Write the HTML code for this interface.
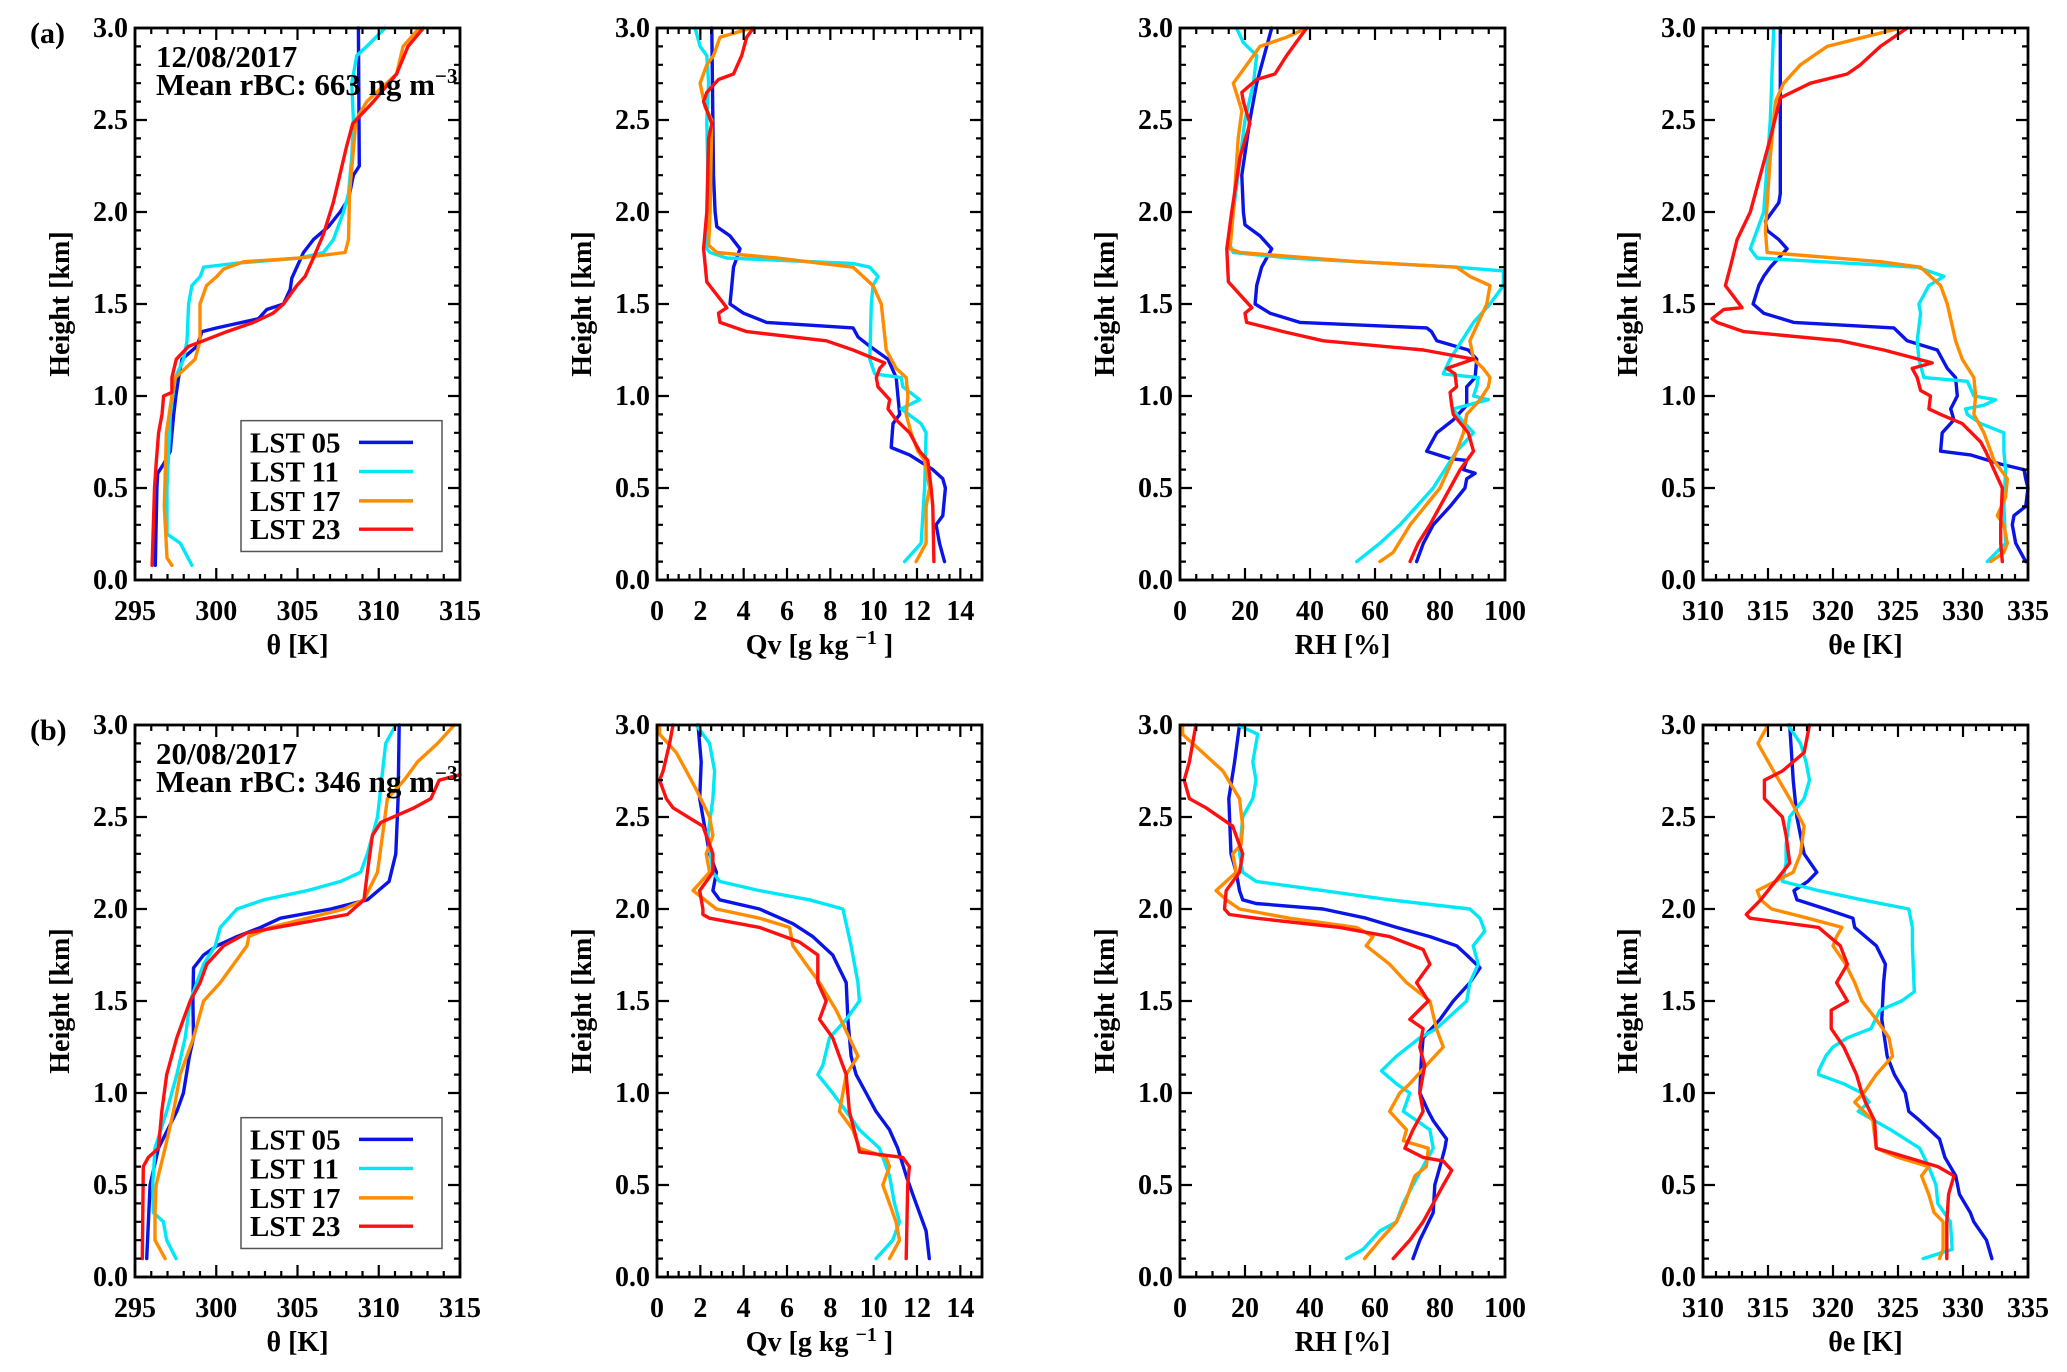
<!DOCTYPE html>
<html><head><meta charset="utf-8"><title>Vertical profiles</title>
<style>
html,body{margin:0;padding:0;background:#fff;}
svg{display:block;font-family:"Liberation Serif",serif;font-weight:bold;}
</style></head>
<body>
<svg id="fig" width="2067" height="1372" viewBox="0 0 2067 1372"></svg>
<script>
// ---------- DATA: [height km, value] ----------
const a1_05=[[0.08,296.25],[0.5,296.35],[0.58,296.4],[0.63,296.76],[0.7,297.17],[0.9,297.38],[1.0,297.52],[1.1,297.68],[1.2,297.89],[1.27,298.81],[1.35,299.12],[1.37,300.04],[1.42,302.6],[1.47,303.11],[1.5,304.14],[1.58,304.55],[1.64,304.65],[1.7,304.96],[1.78,305.37],[1.85,305.98],[1.92,306.9],[2.0,307.62],[2.07,308.14],[2.2,308.44],[2.25,308.8],[3.0,308.75]];
const a1_11=[[0.08,298.5],[0.2,297.79],[0.25,296.97],[0.5,296.97],[0.9,297.17],[1.1,297.48],[1.2,297.99],[1.3,298.2],[1.5,298.3],[1.6,298.5],[1.65,299.02],[1.7,299.22],[1.72,301.07],[1.75,305.16],[1.78,306.6],[1.85,307.21],[2.0,307.83],[2.1,308.14],[2.3,308.34],[2.5,308.44],[2.7,308.34],[2.85,308.65],[2.9,309.26],[3.0,310.39]];
const a1_17=[[0.08,297.27],[0.12,296.97],[0.4,296.8],[0.8,296.93],[1.0,297.27],[1.1,297.48],[1.2,298.7],[1.3,299.0],[1.5,299.0],[1.6,299.4],[1.65,300.04],[1.69,300.45],[1.73,301.7],[1.75,305.2],[1.78,307.93],[1.85,308.14],[2.1,308.2],[2.5,308.6],[2.6,309.26],[2.75,311.1],[2.9,311.5],[3.0,312.5]];
const a1_23=[[0.08,296.05],[0.5,296.2],[0.65,296.32],[0.8,296.45],[0.9,296.66],[1.0,296.76],[1.02,297.27],[1.1,297.27],[1.2,297.54],[1.27,298.3],[1.3,299.2],[1.35,300.66],[1.4,302.3],[1.45,303.5],[1.5,304.14],[1.6,304.96],[1.65,305.47],[1.75,305.98],[1.88,306.6],[2.05,307.2],[2.2,307.6],[2.35,308.0],[2.48,308.4],[2.6,309.67],[2.75,311.1],[2.9,311.8],[3.0,312.75]];

const a2_05=[[0.1,13.27],[0.2,13.04],[0.3,12.88],[0.35,13.19],[0.5,13.31],[0.55,13.19],[0.6,12.73],[0.68,11.66],[0.72,10.81],[0.85,10.89],[0.9,11.2],[1.0,11.12],[1.1,11.04],[1.2,10.66],[1.27,9.82],[1.32,9.28],[1.37,9.05],[1.4,5.06],[1.45,3.99],[1.5,3.37],[1.6,3.45],[1.7,3.53],[1.8,3.83],[1.87,3.37],[1.92,2.76],[2.0,2.68],[2.2,2.61],[3.0,2.53]];
const a2_11=[[0.1,11.43],[0.2,12.19],[0.5,12.35],[0.8,12.42],[0.85,12.19],[0.93,11.27],[0.98,12.12],[1.05,11.35],[1.1,11.27],[1.12,10.05],[1.2,9.82],[1.5,9.89],[1.6,9.97],[1.65,10.2],[1.7,9.82],[1.72,9.05],[1.75,3.22],[1.78,2.45],[1.8,2.3],[2.0,2.38],[2.5,2.3],[2.7,2.38],[2.85,2.3],[2.9,1.99],[3.0,1.76]];
const a2_17=[[0.1,11.96],[0.2,12.42],[0.4,12.42],[0.5,12.58],[0.65,12.35],[0.7,12.04],[0.8,11.73],[0.9,11.5],[1.0,11.58],[1.1,11.5],[1.15,11.04],[1.25,10.58],[1.5,10.35],[1.6,9.97],[1.7,9.05],[1.75,5.52],[1.78,2.76],[1.82,2.38],[2.0,2.45],[2.5,2.53],[2.57,2.22],[2.7,1.99],[2.8,2.3],[2.85,2.61],[2.95,2.91],[3.0,4.37]];
const a2_23=[[0.1,12.78],[0.4,12.73],[0.5,12.65],[0.65,12.5],[0.7,12.12],[0.8,11.66],[0.87,11.04],[0.93,10.66],[0.98,10.74],[1.05,10.2],[1.1,10.12],[1.15,10.28],[1.18,10.51],[1.25,9.05],[1.3,7.82],[1.35,4.14],[1.4,2.91],[1.45,2.84],[1.48,3.22],[1.55,2.76],[1.62,2.3],[1.8,2.15],[2.0,2.3],[2.4,2.38],[2.48,2.53],[2.6,2.15],[2.65,2.3],[2.72,2.84],[2.75,3.53],[2.85,3.91],[2.95,4.14],[3.0,4.45]];

const a3_05=[[0.1,72.8],[0.2,74.9],[0.3,77.9],[0.4,83.1],[0.5,87.7],[0.55,88.2],[0.58,90.8],[0.6,87.2],[0.65,88.2],[0.66,83.1],[0.7,75.9],[0.8,79.0],[0.87,84.1],[0.95,88.2],[1.05,88.2],[1.1,90.8],[1.2,91.3],[1.25,88.7],[1.3,79.0],[1.35,77.4],[1.37,75.9],[1.4,36.9],[1.45,27.7],[1.5,23.1],[1.6,23.6],[1.7,25.1],[1.8,28.2],[1.87,24.6],[1.93,20.0],[2.0,19.5],[2.2,19.0],[2.5,21.5],[2.7,23.6],[3.0,28.2]];
const a3_11=[[0.1,54.4],[0.2,61.5],[0.3,67.7],[0.5,77.9],[0.7,85.1],[0.8,90.3],[0.9,85.1],[0.93,84.1],[0.98,94.9],[1.0,90.3],[1.05,91.3],[1.1,91.8],[1.12,81.0],[1.2,83.1],[1.3,86.7],[1.4,90.3],[1.5,95.4],[1.6,99.5],[1.68,99.5],[1.7,85.1],[1.75,33.8],[1.78,16.4],[1.82,15.4],[2.0,16.4],[2.5,20.0],[2.7,22.6],[2.85,23.6],[2.92,19.5],[3.0,17.4]];
const a3_17=[[0.1,61.5],[0.15,65.6],[0.3,70.8],[0.5,80.0],[0.7,85.1],[0.8,87.2],[0.9,88.2],[0.98,92.3],[1.05,94.9],[1.1,95.4],[1.15,93.3],[1.2,90.3],[1.3,89.2],[1.4,91.8],[1.5,94.4],[1.6,95.4],[1.65,89.2],[1.7,85.1],[1.73,54.4],[1.78,18.5],[1.8,15.4],[2.0,16.4],[2.4,17.9],[2.55,19.0],[2.7,16.4],[2.75,18.5],[2.9,24.6],[2.95,32.8],[3.0,39.0]];
const a3_23=[[0.1,70.8],[0.2,73.3],[0.3,76.9],[0.5,83.1],[0.6,86.2],[0.7,90.3],[0.8,88.7],[0.9,84.1],[0.95,83.6],[1.02,83.1],[1.05,85.1],[1.12,84.6],[1.15,82.1],[1.2,90.3],[1.25,74.9],[1.3,44.1],[1.35,31.8],[1.4,20.5],[1.45,20.0],[1.48,22.1],[1.55,18.5],[1.62,14.9],[1.8,14.4],[2.0,15.9],[2.3,18.5],[2.48,21.5],[2.6,19.5],[2.65,19.0],[2.72,23.6],[2.75,29.2],[2.85,32.8],[2.95,36.9],[3.0,39.0]];

const a4_05=[[0.1,334.82],[0.2,334.05],[0.3,333.79],[0.35,333.92],[0.4,334.82],[0.5,335.0],[0.55,334.82],[0.6,334.69],[0.63,332.9],[0.68,330.58],[0.7,328.28],[0.8,328.4],[0.87,329.3],[0.93,329.05],[1.0,329.56],[1.1,329.43],[1.15,328.79],[1.25,328.02],[1.3,325.71],[1.37,324.68],[1.4,316.98],[1.45,314.67],[1.5,313.85],[1.6,314.29],[1.65,314.67],[1.7,315.18],[1.8,316.47],[1.85,315.83],[1.9,314.93],[1.95,314.8],[2.05,315.83],[2.1,315.95],[3.0,315.95]];
const a4_11=[[0.1,331.87],[0.2,333.28],[0.4,333.15],[0.6,333.28],[0.7,333.15],[0.8,333.15],[0.85,331.36],[0.9,330.33],[0.93,330.2],[0.95,331.61],[0.98,332.51],[1.0,330.84],[1.08,330.33],[1.1,326.99],[1.2,326.61],[1.3,326.48],[1.45,326.74],[1.5,326.61],[1.6,327.38],[1.65,328.53],[1.7,326.48],[1.75,314.16],[1.8,313.64],[1.9,314.16],[2.0,314.67],[2.5,315.18],[3.0,315.44]];
const a4_17=[[0.1,332.13],[0.15,333.15],[0.2,333.41],[0.3,333.15],[0.35,332.64],[0.45,333.28],[0.55,333.41],[0.65,332.38],[0.7,332.13],[0.8,331.61],[0.9,330.84],[1.0,330.97],[1.1,330.84],[1.2,329.94],[1.3,329.43],[1.5,328.79],[1.6,328.28],[1.7,326.74],[1.73,323.65],[1.78,314.93],[1.9,314.8],[2.3,315.18],[2.6,315.57],[2.7,316.21],[2.8,317.49],[2.9,319.55],[2.95,322.37],[3.0,325.2]];
const a4_23=[[0.1,333.02],[0.2,332.9],[0.3,332.9],[0.5,333.02],[0.6,332.38],[0.7,331.74],[0.75,331.36],[0.85,329.94],[0.9,328.28],[0.93,327.38],[1.0,327.5],[1.03,326.74],[1.1,326.48],[1.15,326.09],[1.18,327.63],[1.25,323.91],[1.3,320.57],[1.35,313.13],[1.4,311.08],[1.42,310.69],[1.47,311.59],[1.48,313.0],[1.6,311.72],[1.7,312.1],[1.85,312.62],[2.0,313.64],[2.2,314.41],[2.4,315.18],[2.55,315.7],[2.62,315.95],[2.7,318.26],[2.75,321.09],[2.8,322.11],[2.9,323.65],[3.0,325.71]];

const b1_05=[[0.1,295.72],[0.5,295.93],[0.7,296.44],[0.9,297.57],[1.0,297.98],[1.2,298.35],[1.3,298.6],[1.5,298.56],[1.68,298.6],[1.75,299.22],[1.8,300.04],[1.85,301.28],[1.9,302.72],[1.95,303.95],[2.0,307.04],[2.05,309.3],[2.15,310.64],[2.3,311.05],[2.6,311.19],[3.0,311.26]];
const b1_11=[[0.1,297.53],[0.2,296.95],[0.3,296.75],[0.35,296.13],[0.5,296.09],[0.7,296.23],[0.9,296.95],[1.1,297.57],[1.3,298.09],[1.5,298.4],[1.7,299.22],[1.8,299.94],[1.9,300.25],[2.0,301.28],[2.05,302.92],[2.1,305.6],[2.15,307.65],[2.2,308.89],[2.3,309.3],[2.5,309.92],[2.9,310.43],[3.0,311.05]];
const b1_17=[[0.1,296.85],[0.2,296.23],[0.35,296.23],[0.5,296.3],[0.7,296.85],[0.9,297.37],[1.1,297.78],[1.3,298.6],[1.5,299.22],[1.6,300.25],[1.7,301.07],[1.8,301.89],[1.85,302.0],[1.9,303.33],[2.0,307.86],[2.05,309.09],[2.2,309.92],[2.4,310.23],[2.6,310.53],[2.7,311.56],[2.8,312.39],[2.9,313.62],[3.0,314.65]];
const b1_23=[[0.1,295.45],[0.6,295.51],[0.65,295.82],[0.7,296.44],[0.9,296.65],[1.1,296.95],[1.3,297.57],[1.4,297.98],[1.5,298.4],[1.6,299.01],[1.7,299.42],[1.8,300.45],[1.87,301.89],[1.92,304.98],[1.97,308.07],[2.05,309.09],[2.2,309.3],[2.4,309.61],[2.47,310.12],[2.55,312.18],[2.6,313.21],[2.7,313.72],[2.73,315.0]];

const b2_05=[[0.1,12.57],[0.25,12.42],[0.35,12.11],[0.45,11.8],[0.55,11.5],[0.7,11.11],[0.8,10.73],[0.9,10.11],[1.0,9.65],[1.1,9.19],[1.2,8.96],[1.4,8.81],[1.6,8.73],[1.75,8.11],[1.85,7.19],[1.92,6.27],[2.0,4.73],[2.05,2.89],[2.1,2.58],[2.2,2.74],[2.3,2.43],[2.5,2.12],[2.6,1.97],[2.8,2.04],[3.0,1.89]];
const b2_11=[[0.1,10.11],[0.2,10.88],[0.3,11.19],[0.4,10.96],[0.55,10.73],[0.7,10.27],[0.8,9.34],[0.9,8.73],[1.0,8.11],[1.1,7.42],[1.15,7.65],[1.3,7.96],[1.4,8.73],[1.5,9.34],[1.6,9.27],[1.8,8.96],[2.0,8.58],[2.05,7.04],[2.1,4.73],[2.15,2.89],[2.2,2.58],[2.4,2.35],[2.6,2.58],[2.75,2.66],[2.9,2.43],[3.0,1.81]];
const b2_17=[[0.1,10.73],[0.2,11.19],[0.3,11.03],[0.4,10.73],[0.5,10.42],[0.6,10.73],[0.65,10.57],[0.7,9.34],[0.8,9.04],[0.9,8.42],[1.0,8.58],[1.1,8.73],[1.2,9.27],[1.3,8.88],[1.45,8.27],[1.6,7.5],[1.7,6.88],[1.8,6.27],[1.9,6.12],[1.95,4.73],[2.0,2.74],[2.1,1.66],[2.2,2.43],[2.3,2.27],[2.4,2.58],[2.5,2.43],[2.65,1.81],[2.75,1.35],[2.85,0.89],[2.95,0.12],[3.0,0.12]];
const b2_23=[[0.1,11.5],[0.5,11.57],[0.6,11.65],[0.65,11.34],[0.68,9.34],[0.72,9.27],[0.9,8.88],[1.1,8.73],[1.2,8.42],[1.3,8.11],[1.4,7.5],[1.5,7.81],[1.6,7.42],[1.75,7.42],[1.82,6.58],[1.9,4.73],[1.95,2.43],[1.97,2.12],[2.0,2.12],[2.1,1.97],[2.2,2.58],[2.3,2.58],[2.45,2.12],[2.55,0.74],[2.6,0.43],[2.7,0.12],[2.75,0.28],[2.9,0.58],[3.0,0.74]];

const b3_05=[[0.1,71.7],[0.2,73.8],[0.35,77.9],[0.5,78.4],[0.6,80.0],[0.7,81.5],[0.75,82.0],[0.85,77.9],[0.9,76.4],[1.0,73.8],[1.2,74.3],[1.3,74.8],[1.4,80.0],[1.5,84.1],[1.6,89.2],[1.68,92.3],[1.75,88.2],[1.8,85.1],[1.85,76.9],[1.9,66.6],[1.95,57.3],[2.0,44.0],[2.03,23.4],[2.05,19.3],[2.1,18.3],[2.2,17.3],[2.3,15.7],[2.6,15.0],[2.8,16.8],[3.0,18.3]];
const b3_11=[[0.1,51.2],[0.15,56.3],[0.25,61.5],[0.3,66.6],[0.4,68.7],[0.5,71.7],[0.6,74.8],[0.7,77.9],[0.8,76.9],[0.9,68.7],[1.0,70.7],[1.05,66.6],[1.12,62.0],[1.2,66.6],[1.3,73.8],[1.35,78.9],[1.4,82.0],[1.5,88.2],[1.6,89.2],[1.7,91.8],[1.8,90.2],[1.88,93.8],[1.95,92.3],[2.0,89.2],[2.05,64.5],[2.1,44.0],[2.15,23.4],[2.2,19.3],[2.3,18.3],[2.5,19.3],[2.6,22.4],[2.7,23.4],[2.8,22.4],[2.95,23.9],[3.0,17.8]];
const b3_17=[[0.1,56.8],[0.2,61.5],[0.3,66.6],[0.4,69.2],[0.5,71.2],[0.55,72.3],[0.6,75.8],[0.7,76.4],[0.74,68.7],[0.8,69.7],[0.9,64.5],[1.0,67.6],[1.05,70.7],[1.15,75.8],[1.25,81.0],[1.35,78.9],[1.5,76.9],[1.6,69.7],[1.7,64.5],[1.8,57.3],[1.85,59.4],[1.9,54.3],[1.95,33.7],[2.0,18.3],[2.05,14.2],[2.1,11.1],[2.2,17.3],[2.3,16.2],[2.35,18.8],[2.45,19.3],[2.6,18.3],[2.75,13.2],[2.85,7.0],[2.95,0.8],[3.0,0.8]];
const b3_23=[[0.1,65.6],[0.2,70.7],[0.3,74.8],[0.4,77.9],[0.5,81.0],[0.58,83.6],[0.63,81.0],[0.65,74.8],[0.7,69.2],[0.8,71.7],[0.9,74.8],[1.0,73.8],[1.15,75.3],[1.25,73.8],[1.35,74.8],[1.4,70.7],[1.5,76.4],[1.6,72.8],[1.7,76.9],[1.78,74.8],[1.85,64.5],[1.9,49.1],[1.95,23.4],[1.97,15.2],[2.0,13.7],[2.1,14.2],[2.2,18.3],[2.3,19.3],[2.45,16.2],[2.55,8.0],[2.6,2.9],[2.7,1.3],[2.8,2.9],[3.0,4.9]];

const b4_05=[[0.1,332.22],[0.2,331.81],[0.3,330.83],[0.35,330.56],[0.45,329.72],[0.55,329.44],[0.65,328.61],[0.75,328.19],[0.85,326.67],[0.9,325.83],[1.0,325.56],[1.1,324.72],[1.2,324.17],[1.4,323.75],[1.6,323.89],[1.7,324.03],[1.8,323.33],[1.9,321.67],[1.95,321.53],[2.0,319.44],[2.05,317.22],[2.1,317.0],[2.15,318.06],[2.2,318.75],[2.3,317.78],[2.5,317.22],[2.7,316.94],[2.85,316.81],[3.0,316.67]];
const b4_11=[[0.1,326.94],[0.15,329.17],[0.3,329.03],[0.4,328.06],[0.5,327.92],[0.6,327.36],[0.7,326.67],[0.8,324.44],[0.9,321.94],[0.95,322.78],[1.0,322.22],[1.05,320.83],[1.1,318.89],[1.12,318.89],[1.2,319.44],[1.25,320.0],[1.3,321.11],[1.35,322.92],[1.45,323.61],[1.5,325.28],[1.55,326.25],[1.8,326.11],[1.9,326.11],[2.0,325.83],[2.05,322.22],[2.1,318.89],[2.15,316.11],[2.25,316.39],[2.35,316.39],[2.5,316.67],[2.6,317.78],[2.7,318.19],[2.8,317.92],[2.9,317.5],[3.0,316.53]];
const b4_17=[[0.1,328.19],[0.15,328.47],[0.3,328.47],[0.35,327.78],[0.45,327.36],[0.55,326.81],[0.6,327.36],[0.65,325.0],[0.7,323.33],[0.85,323.06],[0.95,321.67],[1.0,322.36],[1.1,323.33],[1.2,324.58],[1.3,324.31],[1.4,323.33],[1.5,322.22],[1.6,321.67],[1.7,320.97],[1.8,320.0],[1.85,320.28],[1.9,320.69],[1.95,318.06],[2.0,315.28],[2.05,314.44],[2.1,314.17],[2.15,315.56],[2.2,316.94],[2.3,317.5],[2.45,317.78],[2.6,316.67],[2.75,315.42],[2.9,314.22],[3.0,315.0]];
const b4_23=[[0.1,328.75],[0.3,328.75],[0.45,328.89],[0.55,329.31],[0.6,328.06],[0.7,323.33],[0.85,323.19],[0.95,322.5],[1.0,322.22],[1.1,321.81],[1.25,320.83],[1.35,319.86],[1.45,319.86],[1.5,321.11],[1.6,320.28],[1.7,321.11],[1.8,320.56],[1.9,318.89],[1.95,313.61],[1.97,313.33],[2.05,314.44],[2.15,315.56],[2.25,316.67],[2.4,316.39],[2.5,316.11],[2.6,314.72],[2.7,314.72],[2.75,316.11],[2.85,317.78],[3.0,318.19]];

const seriesNames=["LST 05","LST 11","LST 17","LST 23"];
const xTicks1=[295,300,305,310,315];
const xTicks2=[0,2,4,6,8,10,12,14];
const xTicks3=[0,20,40,60,80,100];
const xTicks4=[310,315,320,325,330,335];
const yTicks=[0.0,0.5,1.0,1.5,2.0,2.5,3.0];

// ---------- LAYOUT ----------
const NS="http://www.w3.org/2000/svg";
const svg=document.getElementById('fig');
const colors=["#0a14e6","#00e8f8","#ff8c00","#ff1010"];
const colLeft=[135,657,1180,1703], PW=325;
const rowTop=[28,725], PH=552;
function mk(tag,attrs,parent){const e=document.createElementNS(NS,tag);for(const k in attrs)e.setAttribute(k,attrs[k]);(parent||svg).appendChild(e);return e;}

const panelDefs=[
 {key:"theta",min:295,max:315,ticks:xTicks1,minor:1,title:"θ [K]"},
 {key:"qv",min:0,max:15,ticks:xTicks2,minor:0.5,title:"Qv"},
 {key:"rh",min:0,max:100,ticks:xTicks3,minor:5,title:"RH [%]"},
 {key:"thetae",min:310,max:335,ticks:xTicks4,minor:1,title:"θe [K]"}
];
const rowsData=[
 [[a1_05,a1_11,a1_17,a1_23],[a2_05,a2_11,a2_17,a2_23],[a3_05,a3_11,a3_17,a3_23],[a4_05,a4_11,a4_17,a4_23]],
 [[b1_05,b1_11,b1_17,b1_23],[b2_05,b2_11,b2_17,b2_23],[b3_05,b3_11,b3_17,b3_23],[b4_05,b4_11,b4_17,b4_23]]
];
const rowInfo=[{tag:"(a)",date:"12/08/2017",rbc:"663"},{tag:"(b)",date:"20/08/2017",rbc:"346"}];

for(let r=0;r<2;r++){
 const top=rowTop[r], bot=top+PH;
 const rl=mk('text',{x:30,y:top+15,'font-size':30});
 rl.textContent=rowInfo[r].tag;
 
 
 for(let c=0;c<4;c++){
  const d=panelDefs[c], L=colLeft[c], R=L+PW;
  const g=mk('g',{});
  
  
  const xs=v=>L+(v-d.min)/(d.max-d.min)*PW;
  const ys=h=>bot-h/3*PH;
  const sg=mk('g',{},g);
  rowsData[r][c].forEach((ser,i)=>{
   const pts=ser.map(p=>xs(p[1]).toFixed(1)+','+ys(p[0]).toFixed(1)).join(' ');
   const pl=mk('polyline',{points:pts,fill:'none',stroke:colors[i],'stroke-width':3.4,'stroke-linejoin':'round','stroke-linecap':'round'},sg);
   
   
  });
  const fr=mk('rect',{x:L,y:top,width:PW,height:PH,fill:'none',stroke:'#000','stroke-width':2.8},g);
  
  
  let tp='';
  for(let v=d.min;v<=d.max+1e-9;v+=d.minor){
   const X=xs(v); const major=d.ticks.some(t=>Math.abs(t-v)<1e-6);
   const len=major?12:6;
   tp+=`M${X},${bot}v${-len}M${X},${top}v${len}`;
  }
  for(let h=0;h<=3.0001;h+=0.1){
   const Y=ys(h); const major=Math.abs(h*2-Math.round(h*2))<1e-6;
   const len=major?12:6;
   tp+=`M${L},${Y}h${len}M${R},${Y}h${-len}`;
  }
  mk('path',{d:tp,stroke:'#000','stroke-width':2.2,fill:'none'},g);
  d.ticks.forEach(t=>{
   const tl=mk('text',{x:xs(t),y:bot+40,'font-size':28,'text-anchor':'middle'},g);
   tl.textContent=t;
   
   
  });
  yTicks.forEach(t=>{
   const tl=mk('text',{x:L-7,y:ys(t)+9,'font-size':28,'text-anchor':'end'},g);
   tl.textContent=t.toFixed(1);
   
   
  });
  const xt=mk('text',{x:L+PW/2,y:bot+74,'font-size':28,'text-anchor':'middle'},g);
  if(d.key==="qv"){xt.innerHTML='Qv [g kg <tspan dy="-10" font-size="20">−1</tspan><tspan dy="10"> ]</tspan>';}
  else xt.textContent=d.title;
  
  
  const yt=mk('text',{x:0,y:0,'font-size':28,'text-anchor':'middle',transform:`translate(${L-66},${top+PH/2}) rotate(-90)`},g);
  yt.textContent='Height [km]';
  
  
  if(c===0){
   const an=mk('text',{x:156,y:top+39,'font-size':31},g);
   an.textContent=rowInfo[r].date;
   
   
   const an2=mk('text',{x:156,y:top+67,'font-size':31},g);
   an2.innerHTML='Mean rBC: '+rowInfo[r].rbc+' ng m<tspan dy="-12" font-size="21">−3</tspan>';
   
   
   const lg=mk('g',{},g);
   
   
   mk('rect',{x:241,y:ys(0.866),width:201,height:ys(0.155)-ys(0.866),fill:'#fff',stroke:'#555','stroke-width':1.5},lg);
   const lh=[0.748,0.59,0.43,0.276];
   seriesNames.forEach((nm,i)=>{
    const Y=ys(lh[i]);
    const t=mk('text',{x:250,y:Y+10,'font-size':29},lg);
    t.textContent=nm;
    
    
    mk('line',{x1:359,x2:413,y1:Y,y2:Y,stroke:colors[i],'stroke-width':3.4},lg);
   });
  }
 }
}
</script>
</body></html>
